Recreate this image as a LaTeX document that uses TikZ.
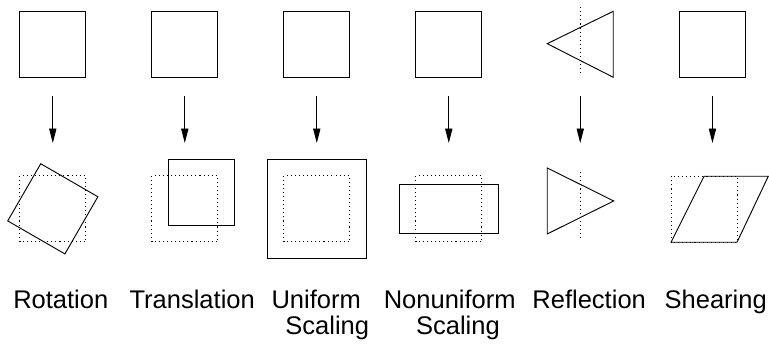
\documentclass[tikz,border=0pt]{standalone}
\usepackage{fontspec}
\setmainfont{Liberation Sans}
\usetikzlibrary{arrows.meta}
\tikzset{
  guide/.style={dash pattern=on 0.45pt off 1.3pt},
  mapto/.style={-{Triangle[length=0.22cm,width=0.11cm]}},
  tlabel/.style={anchor=base,inner sep=0pt,font=\fontsize{11}{13}\selectfont}
}

\begin{document}
\begin{tikzpicture}
      \useasboundingbox (0,0) rectangle (11.652,5.227);

      % originals
      \draw (0.3,4.056) rectangle +(1,1);
      \draw (2.3,4.056) rectangle +(1,1);
      \draw (4.3,4.056) rectangle +(1,1);
      \draw (6.3,4.056) rectangle +(1,1);
      \draw (8.292,4.565) -- (9.292,5.056) -- (9.292,4.056) -- cycle;
      \draw [guide] (8.792,5.117) -- (8.792,4.076);
      \draw (10.3,4.056) rectangle +(1,1);

      % arrows
      \coordinate (rotA) at (0.8,3.773);   \coordinate (rotB) at (0.8,3.06);
      \coordinate (traA) at (2.8,3.773);   \coordinate (traB) at (2.8,3.06);
      \coordinate (uniA) at (4.8,3.773);   \coordinate (uniB) at (4.8,3.06);
      \coordinate (nonA) at (6.8,3.773);   \coordinate (nonB) at (6.8,3.06);
      \coordinate (refA) at (8.792,3.773); \coordinate (refB) at (8.792,3.06);
      \coordinate (sheA) at (10.795,3.773); \coordinate (sheB) at (10.795,3.06);
      \draw [mapto] (rotA) -- (rotB);
      \draw [mapto] (traA) -- (traB);
      \draw [mapto] (uniA) -- (uniB);
      \draw [mapto] (nonA) -- (nonB);
      \draw [mapto] (refA) -- (refB);
      \draw [mapto] (sheA) -- (sheB);

      % rotation
      \draw [guide] (0.3,1.563) rectangle +(1,1);
      \draw [rotate around={-30:(0.8,2.063)}] (0.3,1.563) rectangle +(1,1);

      % translation
      \draw [guide] (2.3,1.563) rectangle +(1,1);
      \draw (2.55,1.813) rectangle +(1,1);

      % uniform scaling
      \draw [guide] (4.3,1.563) rectangle +(1,1);
      \draw (4.05,1.313) rectangle +(1.5,1.5);

      % nonuniform scaling
      \draw [guide] (6.3,1.563) rectangle +(1,1);
      \draw (6.05,1.688) rectangle +(1.5,0.75);

      % reflection
      \draw (8.292,2.682) -- (9.298,2.182) -- (8.292,1.682) -- cycle;
      \draw [guide] (8.792,2.617) -- (8.792,1.591);

      % shearing
      \draw [guide] (10.167,1.556) rectangle +(1,1);
      \draw (10.167,1.556) -- (11.167,1.556) -- (11.641,2.556) -- (10.667,2.556) -- cycle;

      % labels
      \node [tlabel] (rotlbl) at (0.921,0.556) {Rotation};
      \node [tlabel] (tralbl) at (2.912,0.556) {Translation};
      \node [tlabel] (unilbl) at (4.791,0.556) {Uniform};
      \node [tlabel] (unisub) at (4.958,0.152) {Scaling};
      \node [tlabel] (nonlbl) at (6.814,0.556) {Nonuniform};
      \node [tlabel] (nonsub) at (6.939,0.152) {Scaling};
      \node [tlabel] (reflbl) at (8.927,0.556) {Reflection};
      \node [tlabel] (shelbl) at (10.844,0.556) {Shearing};

    \end{tikzpicture}
\end{document}
